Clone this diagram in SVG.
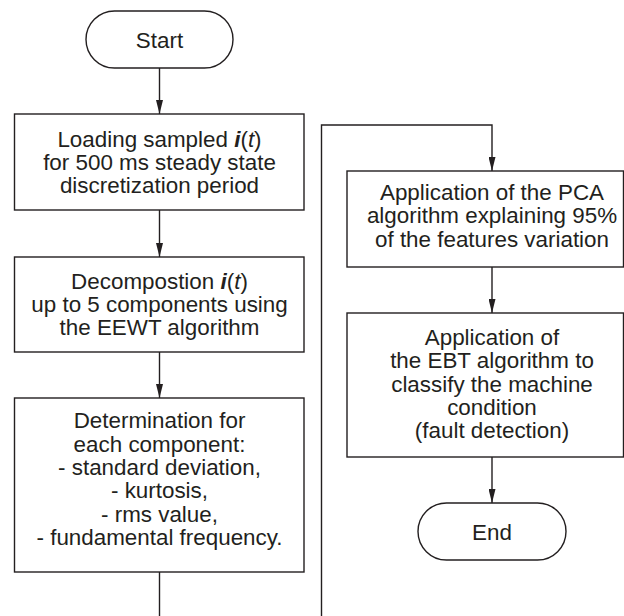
<svg xmlns="http://www.w3.org/2000/svg" width="624" height="616" viewBox="0 0 624 616">
<defs>
<marker id="arr" markerWidth="14" markerHeight="7" refX="14" refY="3.5" orient="auto" markerUnits="userSpaceOnUse" viewBox="0 0 14 7">
<path d="M0,0 L14,3.5 L0,7 Z" fill="#231f20"/>
</marker>
<style>
.b{fill:#fff;stroke:#231f20;stroke-width:1.4}
.t{font-family:"Liberation Sans",Arial,sans-serif;font-size:22.4px;fill:#231f20;text-anchor:middle}
.c{fill:none;stroke:#231f20;stroke-width:1.4}
.bi{font-weight:bold;font-style:italic}
.it{font-style:italic}
</style>
</defs>
<rect width="624" height="616" fill="#fff"/>
<g id="connectors">
<line class="c" x1="159.5" y1="68" x2="159.5" y2="114" marker-end="url(#arr)"/>
<line class="c" x1="159.5" y1="210" x2="159.5" y2="257" marker-end="url(#arr)"/>
<line class="c" x1="159.5" y1="352" x2="159.5" y2="398" marker-end="url(#arr)"/>
<line class="c" x1="159.5" y1="572" x2="159.5" y2="616"/>
<polyline class="c" points="321.5,616 321.5,125 492,125 492,171" marker-end="url(#arr)"/>
<line class="c" x1="492" y1="267" x2="492" y2="313" marker-end="url(#arr)"/>
<line class="c" x1="492" y1="457" x2="492" y2="503" marker-end="url(#arr)"/>
</g>
<g id="start">
<rect class="b" x="86" y="11" width="147" height="57" rx="28.5" ry="28.5"/>
<text class="t" x="159.5" y="47.5">Start</text>
</g>
<g id="load">
<rect class="b" x="14.5" y="114" width="289.5" height="96"/>
<text class="t" x="159.5" y="146.7">Loading sampled <tspan class="bi">i</tspan>(<tspan class="it">t</tspan>)</text>
<text class="t" x="159.5" y="170">for 500 ms steady state</text>
<text class="t" x="159.5" y="193">discretization period</text>
</g>
<g id="decomp">
<rect class="b" x="14.5" y="257" width="289.5" height="95"/>
<text class="t" x="159.5" y="289">Decompostion <tspan class="bi">i</tspan>(<tspan class="it">t</tspan>)</text>
<text class="t" x="159.5" y="312">up to 5 components using</text>
<text class="t" x="159.5" y="335.3">the EEWT algorithm</text>
</g>
<g id="determ">
<rect class="b" x="14.5" y="398" width="289.5" height="174"/>
<text class="t" x="159.5" y="428.3">Determination for</text>
<text class="t" x="159.5" y="451.6">each component:</text>
<text class="t" x="159.5" y="474.9">- standard deviation,</text>
<text class="t" x="159.5" y="498.2">- kurtosis,</text>
<text class="t" x="159.5" y="521.5">- rms value,</text>
<text class="t" x="159.5" y="544.8">- fundamental frequency.</text>
</g>
<g id="pca">
<rect class="b" x="347" y="171" width="276.5" height="96"/>
<text class="t" x="492" y="200">Application of the PCA</text>
<text class="t" x="492" y="223.3">algorithm explaining 95%</text>
<text class="t" x="492" y="246.6">of the features variation</text>
</g>
<g id="ebt">
<rect class="b" x="347" y="313" width="276.5" height="144"/>
<text class="t" x="492" y="345">Application of</text>
<text class="t" x="492" y="368.3">the EBT algorithm to</text>
<text class="t" x="492" y="391.6">classify the machine</text>
<text class="t" x="492" y="414.9">condition</text>
<text class="t" x="492" y="438.2">(fault detection)</text>
</g>
<g id="end">
<rect class="b" x="418" y="503" width="148" height="57" rx="28.5" ry="28.5"/>
<text class="t" x="492" y="539.5">End</text>
</g>
</svg>
